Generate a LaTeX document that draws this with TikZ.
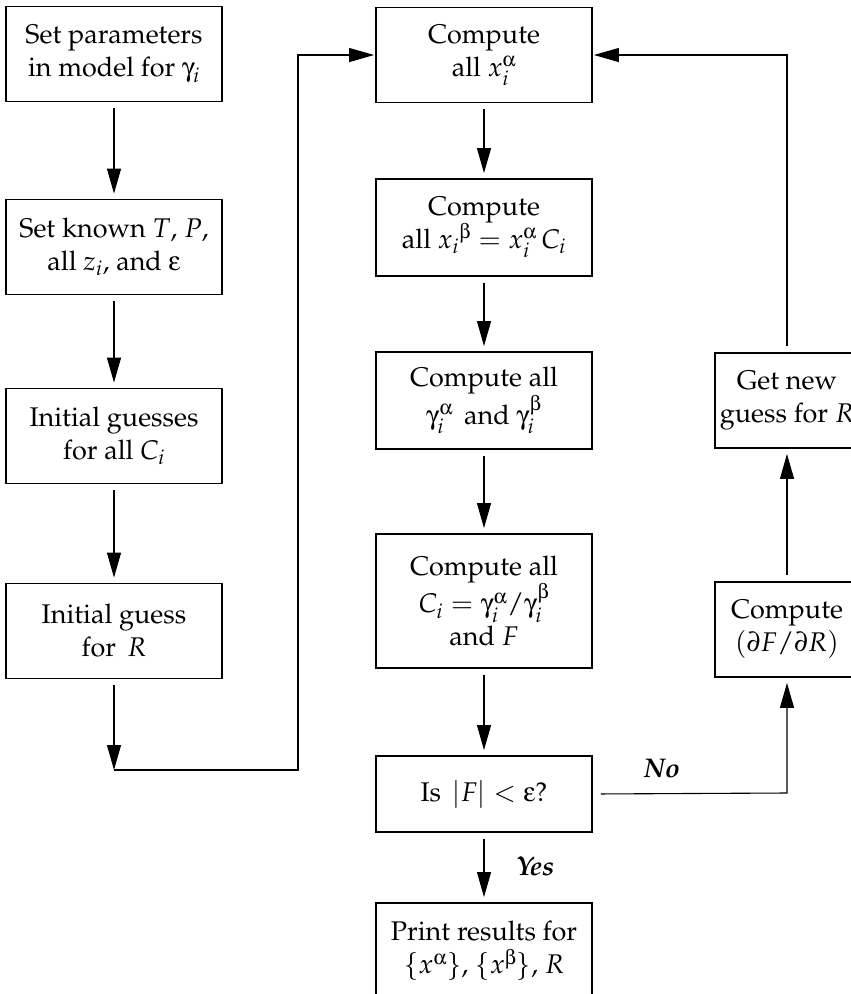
\documentclass[tikz,border=0pt]{standalone}
\usepackage[T1]{fontenc}
\usepackage{mathpazo}
\usepackage[Symbol]{upgreek}
\usetikzlibrary{arrows.meta}
\begin{document}
\begin{tikzpicture}[x=1pt,y=-1pt,
  box/.style={draw, line width=1.8pt, minimum height=95pt, inner sep=0pt, align=center, font=\fontsize{27}{33}\selectfont},
  lw/.style={box, minimum width=216pt},
  rw/.style={box, minimum width=144pt},
  conn/.style={line width=1.1pt},
  arr/.style={conn, -{Triangle[length=25pt,width=14pt]}, shorten >=5pt, shorten <=6pt},
  lbl/.style={font=\fontsize{27}{33}\selectfont\bfseries\itshape, inner sep=0pt}
]
\useasboundingbox (0,0) rectangle (851,994);
% left column
\node[lw] (L1) at (114,54) {Set parameters\\ in model for $\upgamma_i$};
\node[lw] (L2) at (114,247) {Set known $T$, $P$,\\ all $z_i$, and $\upvarepsilon$};
\node[lw] (L3) at (114,436) {Initial guesses\\ for all $C_i$};
\node[lw] (L4) at (114,631) {Initial guess\\ for \,$R$};
% middle column
\node[lw] (M1) at (484,55) {Compute\\ all $x_i^{\upalpha}$};
\node[lw, minimum height=97pt] (M2) at (484,227.5) {Compute\\ all $x_i{}^{\upbeta} = x_i^{\upalpha}\, C_i$};
\node[lw, minimum height=97pt] (M3) at (484,400.5) {Compute all\\ $\upgamma_i^{\upalpha}$\, and $\upgamma_i^{\upbeta}$};
\node[lw, minimum height=134pt] (M4) at (484,601) {Compute all\\ $C_i = \upgamma_i^{\upalpha}/\upgamma_i^{\upbeta}$\\ and $F$};
\node[lw, minimum height=76pt] (M5) at (484,794) {Is $\,|F| < \upvarepsilon$?};
\node[lw, minimum height=96pt] (M6) at (484,951) {Print results for\\ $\{x^{\upalpha}\}$, $\{x^{\upbeta}\}$, $R$};
% right column
\node[rw] (R1) at (787,400.5) {Get new\\ guess for $R$};
\node[rw] (R2) at (787,629.5) {Compute\\ $(\partial F/\partial R)$};
% coordinates
\coordinate (ca) at (114,770);
\coordinate (cb) at (298,770);
\coordinate (cc) at (298,55);
\coordinate (cd) at (787,55);
\coordinate (ce) at (787,793);
% connectors left
\draw[arr] (L1) -- (L2);
\draw[arr] (L2) -- (L3);
\draw[arr] (L3) -- (L4);
\draw[arr, shorten >=0pt] (L4) -- (ca);
\draw[arr, shorten <=0pt, shorten >=1pt] (ca) -- (cb) -- (cc) -- (M1.west);
% connectors middle
\draw[arr] (M1) -- (M2);
\draw[arr] (M2) -- (M3);
\draw[arr] (M3) -- (M4);
\draw[arr] (M4) -- (M5);
\draw[arr] (M5) -- (M6);
% connectors right
\draw[arr, shorten <=8pt] (M5.east) -- (ce) -- (R2.south);
\draw[arr] (R2) -- (R1);
\draw[arr, shorten >=1pt] (R1.north) -- (cd) -- (M1.east);
% labels
\node[lbl] (no) at (662,769) {No};
\node[lbl] (yes) at (535,866) {Yes};
\end{tikzpicture}
\end{document}
